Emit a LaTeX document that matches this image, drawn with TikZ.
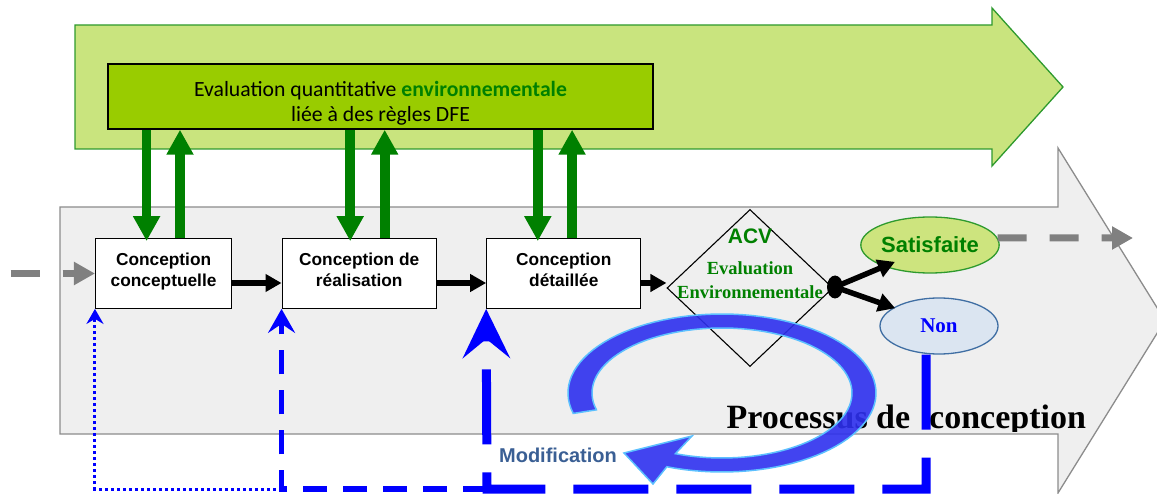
\documentclass[tikz,border=0pt]{standalone}
\usepackage{fontspec}
\setmainfont{Liberation Serif}
\setsansfont{Liberation Sans}
\newfontfamily\calibfont{Carlito}
\usetikzlibrary{arrows.meta,shapes.geometric,calc}
\definecolor{dkgreen}{HTML}{008000}
\definecolor{lightlime}{HTML}{C9E47E}
\definecolor{limebox}{HTML}{99CC00}
\definecolor{arrowgreen}{HTML}{2E9A2E}
\definecolor{bgrey}{HTML}{EFEFEF}
\definecolor{edgegrey}{HTML}{8C8C8C}
\definecolor{dashgrey}{HTML}{808080}
\definecolor{satfill}{HTML}{CDE47E}
\definecolor{nonfill}{HTML}{DBE5F1}
\definecolor{nonedge}{HTML}{3F6EA3}
\definecolor{modblue}{HTML}{3A5F94}
\definecolor{ringfill}{HTML}{2E30EE}
\definecolor{ringedge}{HTML}{5CC0FF}
\newcommand{\shiftbox}[2]{\raisebox{#1}[\height][\depth]{\begin{tabular}{@{}c@{}}#2\end{tabular}}}
\begin{document}
\begin{tikzpicture}[x=1pt,y=-1pt,line join=miter,
  bigarrowgrey/.style={draw=edgegrey,fill=bgrey,line width=1.3pt},
  bigarrowgreen/.style={draw=arrowgreen,fill=lightlime,line width=1.3pt},
  evalbox/.style={draw=black,fill=limebox,line width=1.5pt,minimum width=545pt,minimum height=65pt,inner sep=0pt,font=\calibfont\fontsize{21.7}{25}\selectfont},
  stepbox/.style={draw=black,fill=white,line width=1.3pt,minimum height=69.5pt,inner sep=0pt,font=\sffamily\bfseries\fontsize{17.3}{21}\selectfont},
  decision/.style={draw=black,line width=1.1pt,diamond,minimum width=166pt,minimum height=157pt,inner sep=0pt},
  gdown/.style={draw=dkgreen,line width=9.6pt,shorten >=-3pt,-{Triangle[width=25.6pt,length=25pt]}},
  gup/.style={draw=dkgreen,line width=9.6pt,-{Triangle[width=25.6pt,length=25pt]}},
  barrow/.style={draw=black,line width=6.5pt,-{Triangle[width=17pt,length=16pt]}},
  darrow/.style={draw=black,line width=5.5pt,-{Triangle[width=18pt,length=17pt]}},
  gdash/.style={draw=dashgrey,line width=7pt,dash pattern=on 29pt off 23pt,-{Triangle[width=22pt,length=21pt]}},
  bthick/.style={draw=blue,line width=9pt,dash pattern=on 75pt off 28pt,-{Stealth[length=49pt,width=47pt,inset=19pt]}},
  bdash/.style={draw=blue,line width=5.5pt,dash pattern=on 24pt off 16pt,-{Stealth[length=24pt,width=27pt,inset=9pt]}},
  bdot/.style={draw=blue,line width=3pt,dash pattern=on 3pt off 3pt,-{Stealth[length=15pt,width=17pt,inset=5pt]}},
  ringstyle/.style={fill=ringfill,fill opacity=0.9,draw=ringedge,line width=1.5pt}
]
\useasboundingbox (0,0) rectangle (1157,494);
% big background arrows
\draw[bigarrowgrey] (60,207) -- (1058,207) -- (1058,148) -- (1165,320.5) -- (1058,493) -- (1058,434) -- (60,434) -- cycle;
\draw[bigarrowgreen] (75,25) -- (992,25) -- (992,8) -- (1063,87) -- (992,166) -- (992,149) -- (75,149) -- cycle;
% evaluation box
\node[evalbox] (eval) at (380.5,96.5) {\shiftbox{-7.5pt}{Evaluation quantitative \textcolor{dkgreen}{\bfseries environnementale}\\ liée à des règles DFE}\hspace{14pt}};
% diamond
\node[decision] (acv) at (750,288) {};
\node[inner sep=0pt,text=dkgreen,font=\rmfamily\bfseries\fontsize{18.5}{24}\selectfont] (acvtext) at (750,266.7)
  {\begin{tabular}{@{}c@{}}{\sffamily\fontsize{21}{24}\selectfont ACV}\\[7pt] Evaluation\\ Environnementale\end{tabular}};
% process title (clipped at the bottom of the grey arrow)
\begin{scope}
\clip (700,380) rectangle (1157,431);
\node[anchor=base west,inner sep=0pt,font=\rmfamily\bfseries\fontsize{34}{40}\selectfont] (proc) at (726.5,428) {Processus de\hspace{19pt}conception};
\end{scope}
% circular arrow
\filldraw[ringstyle] plot[domain=195:-111,samples=90] ({722+154*cos(\x)},{393-79*sin(\x)})
  -- (653,484) -- (624,453) -- (692,436)
  -- plot[domain=-111:195,samples=90] ({722+130*cos(\x)},{393-65*sin(\x)}) -- cycle;
% step boxes
\node[stepbox,minimum width=136pt] (c1) at (163.6,273.5) {\shiftbox{2pt}{Conception\\conceptuelle}};
\node[stepbox,minimum width=154pt] (c2) at (359.2,273.5) {\shiftbox{2pt}{Conception de\\réalisation}};
\node[stepbox,minimum width=154pt] (c3) at (563.8,273.5) {\shiftbox{2pt}{Conception\\détaillée}};
% outcome ellipses
\node[ellipse,draw=arrowgreen,fill=satfill,line width=1.3pt,minimum width=138pt,minimum height=56pt,inner sep=0pt,text=dkgreen,font=\sffamily\bfseries\fontsize{22}{24}\selectfont] (sat) at (930,245) {Satisfaite};
\node[ellipse,draw=nonedge,fill=nonfill,line width=1.3pt,minimum width=118pt,minimum height=56pt,inner sep=0pt,text=blue,font=\rmfamily\bfseries\fontsize{21}{24}\selectfont] (non) at (939,326) {Non};
\node[ellipse,fill=black,minimum width=16pt,minimum height=23pt,inner sep=0pt] (dot) at (835,287) {};
% green exchange arrows
\coordinate (g1d) at ($(c1.north)+(-17,0)$);
\coordinate (g1u) at ($(c1.north)+(16.4,0)$);
\coordinate (g2d) at ($(c2.north)+(-9,0)$);
\coordinate (g2u) at ($(c2.north)+(25.5,0)$);
\coordinate (g3d) at ($(c3.north)+(-26,0)$);
\coordinate (g3u) at ($(c3.north)+(8.3,0)$);
\draw[gdown] (g1d |- eval.south) -- (g1d);
\draw[gup] (g1u) -- (g1u |- eval.south);
\draw[gdown] (g2d |- eval.south) -- (g2d);
\draw[gup] (g2u) -- (g2u |- eval.south);
\draw[gdown] (g3d |- eval.south) -- (g3d);
\draw[gup] (g3u) -- (g3u |- eval.south);
% black flow arrows
\draw[barrow] ($(c1.east)+(0,9.5)$) -- ($(c2.west)+(0,9.5)$);
\draw[barrow] ($(c2.east)+(0,9.5)$) -- ($(c3.west)+(0,9.5)$);
\coordinate (a3) at ($(c3.east)+(0,9.5)$);
\draw[barrow] (a3) -- (a3 -| acv.west);
\draw[darrow,shorten >=-12pt] (dot.center) -- (sat.205);
\draw[darrow,shorten >=-2pt] (dot.center) -- (non.158);
% grey input / output
\coordinate (instart) at (10.7,273.5);
\coordinate (outend) at (1133,238);
\draw[gdash] (instart) -- (c1.west);
\draw[gdash] (sat.6) -- (outend);
% blue feedback loops
\coordinate (bl) at (487,489);
\coordinate (bm) at (bl -| c2.south west);
\draw[bthick] ([xshift=-13pt]non.south) |- (bl) -- (c3.south west);
\draw[bdash] (bl) -| (c2.south west);
\draw[bdot] (bm) -| (c1.south west);
% modification label
\node[inner sep=0pt,text=modblue,font=\sffamily\bfseries\fontsize{20}{24}\selectfont] (mod) at (558,455) {Modification};
\end{tikzpicture}
\end{document}
